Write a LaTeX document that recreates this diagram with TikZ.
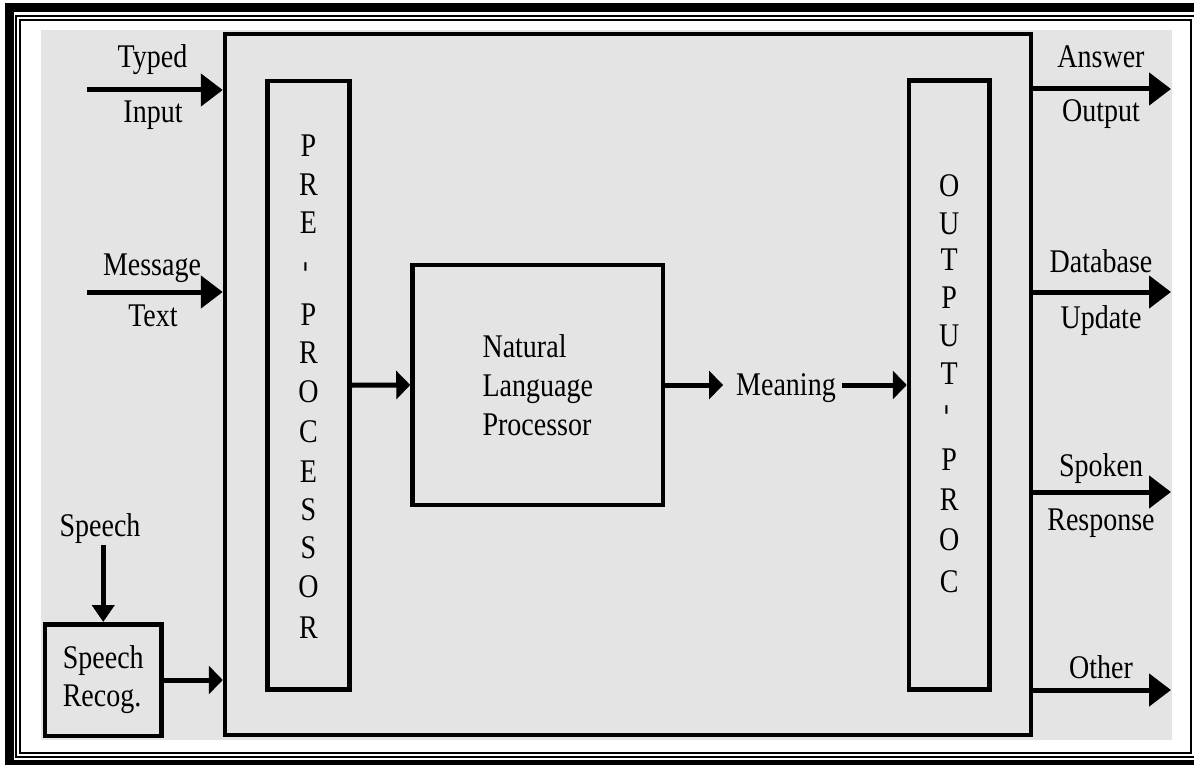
\documentclass[tikz,border=0pt]{standalone}
\usepackage{fontspec}
\setmainfont{Liberation Serif}
\usetikzlibrary{arrows.meta}
\definecolor{bggray}{RGB}{228,228,228}
\newcommand\tall[1]{\scalebox{1}[1.18]{#1}}
\begin{document}
\begin{tikzpicture}[x=1pt,y=-1pt,
  font=\fontsize{28}{38}\selectfont,
  box/.style={draw, line width=4.5pt, rectangle, inner sep=0pt},
  bigarrow/.style={line width=5pt, -{Triangle[length=22pt,width=32pt]}},
  smallarrow/.style={line width=5pt, -{Triangle[length=14pt,width=28pt]}},
  downarrow/.style={line width=5pt, -{Triangle[length=17pt,width=22pt]}},
  lbl/.style={anchor=base, inner sep=0pt},
  letter/.style={anchor=base, inner sep=0pt}]
\useasboundingbox (0,0) rectangle (1194,765);
\fill[white] (0,0) rectangle (1194,765);
\begin{scope}
  \clip (0,0) rectangle (1194,765);
  \draw[line width=9pt] (9,8) rectangle (1202,764);
  \draw[line width=2pt] (16,16) rectangle (1195,757);
  \draw[line width=1.5pt] (20,20) rectangle (1191,753);
\end{scope}
\fill[bggray] (41,30) rectangle (1172,740);

% boxes
\node[box, minimum width=806pt, minimum height=701pt] (main) at (628,384.5) {};
\node[box, minimum width=82pt, minimum height=608.5pt] (pre) at (308.5,385.25) {};
\node[box, minimum width=80.5pt, minimum height=609pt] (out) at (949.25,385) {};
\node[box, minimum width=250.5pt, minimum height=240pt, align=left, font=\fontsize{28}{39}\selectfont] (nlp) at (537.75,385) {\tall{Natural}\\\tall{Language}\\\tall{Processor}};
\node[box, minimum width=116.5pt, minimum height=111.5pt, align=left, font=\fontsize{28}{38}\selectfont] (sr) at (103.25,680) {\tall{Speech}\\\tall{Recog.}};

% column letters
\foreach \ch/\yy [count=\i] in {P/157,R/195,E/233,P/325,R/363,O/402,C/442,E/482,S/520,S/558,O/597,R/638}
  \node[letter] (pre\i) at (308.5,\yy) {\tall{\ch}};
\node[inner sep=0pt] (predash) at (308.5,267) {\tall{\rotatebox{90}{-}}};
\foreach \ch/\yy [count=\i] in {O/196,U/234,T/270,P/308,U/346,T/384,P/470,R/510,O/550,C/592}
  \node[letter] (out\i) at (949.25,\yy) {\tall{\ch}};
\node[inner sep=0pt] (outdash) at (949.25,410) {\tall{\rotatebox{90}{-}}};

% left inputs
\node[lbl] (typed) at (152.5,68) {\tall{Typed}};
\node[lbl] (input) at (153,123) {\tall{Input}};
\coordinate (tin) at (87,90);
\draw[bigarrow] (tin) -- (tin -| main.west);

\node[lbl] (message) at (152,275) {\tall{Message}};
\node[lbl] (text) at (153,326) {\tall{Text}};
\coordinate (min) at (87,292);
\draw[bigarrow] (min) -- (min -| main.west);

\node[lbl] (speech) at (100,536) {\tall{Speech}};
\coordinate (sin) at (103.25,545);
\draw[downarrow] (sin) -- (sr.north);
\draw[smallarrow] (sr.east) -- (sr.east -| main.west);

% internal flow
\draw[smallarrow] (pre.east) -- (nlp.west);
\node[lbl] (meaning) at (786,395) {\tall{Meaning}};
\draw[smallarrow] (nlp.east) -- ([xshift=-13pt]nlp.east -| meaning.west);
\draw[smallarrow] ([xshift=6pt]nlp.east -| meaning.east) -- (out.west |- nlp.east);

% outputs
\coordinate (o1) at (1171,89);
\coordinate (o2) at (1171,292);
\coordinate (o3) at (1171,492);
\coordinate (o4) at (1171,690);
\draw[bigarrow] (main.east |- o1) -- (o1);
\draw[bigarrow] (main.east |- o2) -- (o2);
\draw[bigarrow] (main.east |- o3) -- (o3);
\draw[bigarrow] (main.east |- o4) -- (o4);
\node[lbl] (answer) at (1101,68) {\tall{Answer}};
\node[lbl] (output) at (1101,122) {\tall{Output}};
\node[lbl] (database) at (1101,272) {\tall{Database}};
\node[lbl] (update) at (1101,328) {\tall{Update}};
\node[lbl] (spoken) at (1101,476) {\tall{Spoken}};
\node[lbl] (response) at (1101,530) {\tall{Response}};
\node[lbl] (other) at (1101,678) {\tall{Other}};
\end{tikzpicture}
\end{document}
